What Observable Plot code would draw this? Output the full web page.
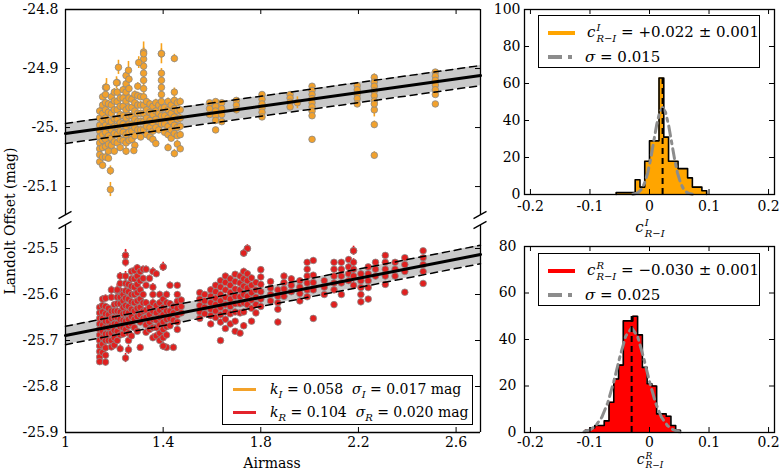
<!DOCTYPE html>
<html>
<head>
<meta charset="utf-8">
<script src="https://cdn.jsdelivr.net/npm/d3@7"></script>
<script src="https://cdn.jsdelivr.net/npm/@observablehq/plot@0.6"></script>
<style>
html,body{margin:0;padding:0;background:#fff;overflow:hidden;}
#root{position:relative;width:780px;height:473px;font-family:"DejaVu Serif","Liberation Serif",serif;color:#000;overflow:hidden;}
.box{position:absolute;background:#fff;border:1.3px solid #000;box-sizing:border-box;}
.sw{position:absolute;}
.lt{position:absolute;white-space:nowrap;font-size:15px;line-height:20px;font-family:"DejaVu Serif","Liberation Serif",serif;}
.lt sub{font-size:10px;vertical-align:-4px;line-height:0;}
.ss{display:inline-block;font-size:10px;line-height:11px;vertical-align:-5px;text-align:left;margin-left:1px;}
.ss>span{display:block;}
.small .ss{font-size:9px;line-height:9px;vertical-align:-4px;}
</style>
</head>
<body>
<div id="root"></div>
<script>
// ---------------- data ----------------
const airDomain = [1, 2.7];
const airTicks = [1, 1.4, 1.8, 2.2, 2.6];
const airLabels = ["1", "1.4", "1.8", "2.2", "2.6"];

const topDomain = [-25.149, -24.8];
const topYTicks = [-24.8, -24.9, -25.0, -25.1];
const topYLabels = ["-24.8", "-24.9", "-25.", "-25.1"];

const lowDomain = [-25.9, -25.45];
const lowYTicks = [-25.5, -25.6, -25.7, -25.8, -25.9];
const lowYLabels = ["-25.5", "-25.6", "-25.7", "-25.8", "-25.9"];

// fitted lines (airmass endpoints) and scatter
const fitX = [1, 2.7];
const fitI = [-25.010, -24.912];
const fitR = [-25.689, -25.513];
const sigI = 0.017;
const sigR = 0.020;

// I band: [airmass, error, offsets]
const iColumns = [
  [1.140, 0.006, [-24.972,-24.984,-24.996,-25.006,-25.016,-25.026,-25.036,-25.046,-25.058]],
  [1.152, 0.006, [-24.948,-24.962,-24.976,-24.988,-25.0,-25.012,-25.022,-25.034,-25.05,-25.064]],
  [1.164, 0.007, [-24.932,-24.944,-24.958,-24.97,-24.984,-24.996,-25.008,-25.02,-25.032,-25.05]],
  [1.176, 0.006, [-24.96,-24.974,-24.988,-25.0,-25.014,-25.028,-25.04,-25.052]],
  [1.188, 0.006, [-24.948,-24.962,-24.976,-24.99,-25.004,-25.018,-25.03]],
  [1.200, 0.006, [-24.94,-24.955,-24.97,-24.985,-24.998,-25.01,-25.024,-25.04]],
  [1.212, 0.006, [-24.924,-24.94,-24.956,-24.97,-24.986,-24.998,-25.012,-25.026]],
  [1.224, 0.006, [-24.95,-24.964,-24.978,-24.992,-25.006,-25.02,-25.034]],
  [1.236, 0.006, [-24.936,-24.95,-24.964,-24.98,-24.994,-25.008,-25.022]],
  [1.248, 0.007, [-24.912,-24.926,-24.94,-24.955,-24.97,-24.984,-24.998,-25.012,-25.026,-25.04]],
  [1.260, 0.007, [-24.918,-24.934,-24.95,-24.966,-24.98,-24.994,-25.008,-25.022]],
  [1.272, 0.006, [-24.952,-24.966,-24.98,-24.994,-25.006,-25.02]],
  [1.284, 0.006, [-24.944,-24.958,-24.972,-24.986,-25.0,-25.014,-25.03]],
  [1.296, 0.006, [-24.93,-24.946,-24.962,-24.976,-24.99,-25.004]],
  [1.308, 0.006, [-24.948,-24.962,-24.976,-24.99,-25.004,-25.016]],
  [1.320, 0.008, [-24.872,-24.884,-24.896,-24.908,-24.92,-24.934,-24.948,-24.962,-24.976,-24.99,-25.004]],
  [1.332, 0.006, [-24.956,-24.97,-24.984,-24.998,-25.012]],
  [1.346, 0.006, [-24.96,-24.974,-24.988,-25.0,-25.016]],
  [1.358, 0.006, [-24.964,-24.978,-24.992,-25.006,-25.02]],
  [1.370, 0.006, [-24.958,-24.972,-24.986,-25.0,-25.027]],
  [1.382, 0.006, [-24.962,-24.976,-24.99,-25.004]],
  [1.393, 0.008, [-24.875,-24.908,-24.92,-24.932,-24.944,-24.956,-24.968,-24.98,-24.994]],
  [1.406, 0.006, [-24.966,-24.98,-24.994,-25.008]],
  [1.420, 0.006, [-24.956,-24.97,-24.984,-24.998,-25.012,-25.034]],
  [1.433, 0.006, [-24.962,-24.976,-24.99,-25.004,-25.018]],
  [1.446, 0.007, [-24.883,-24.94,-24.954,-24.968,-24.982,-24.996,-25.01,-25.044]],
  [1.458, 0.006, [-24.958,-24.972,-24.986,-25.0,-25.014,-25.028]],
  [1.470, 0.006, [-24.956,-24.97,-24.984,-24.998,-25.012,-25.036]],
  [1.590, 0.004, [-24.958,-24.968,-24.978]],
  [1.615, 0.004, [-24.956,-24.964,-24.972,-24.98,-24.988,-25.004]],
  [1.640, 0.004, [-24.958,-24.968,-24.978,-24.99]],
  [1.700, 0.005, [-24.954,-24.962,-24.97]],
  [1.805, 0.004, [-24.944,-24.952,-24.96,-24.967,-24.974,-24.982]],
  [1.920, 0.004, [-24.944,-24.95,-24.957,-24.965]],
  [2.010, 0.004, [-24.93,-24.937,-24.944,-24.951,-24.958,-24.965,-24.972,-24.98,-25.02]],
  [2.195, 0.004, [-24.929,-24.936,-24.944,-24.951,-24.96]],
  [2.265, 0.006, [-24.915,-24.923,-24.93,-24.938,-24.946,-24.955,-24.97,-24.995,-25.047]],
  [2.515, 0.004, [-24.906,-24.913,-24.92,-24.928,-24.936,-24.944,-24.96]]
];
// I band points with long error bars: [airmass, offset, error]
const iWide = [
  [1.168,-24.932,0.015],[1.217,-24.898,0.012],[1.258,-24.903,0.015],[1.300,-24.890,0.010],
  [1.209,-24.924,0.010],[1.184,-25.073,0.008],[1.184,-25.105,0.012],[1.280,-25.039,0.006],
  [1.393,-24.875,0.017],[1.320,-24.875,0.020],[1.950,-24.958,0.010],[2.265,-24.960,0.022]
];

// R band: [airmass, error, offsets]
const rColumns = [
  [1.140, 0.007, [-25.628,-25.64,-25.652,-25.664,-25.676,-25.688,-25.7,-25.712,-25.724,-25.736,-25.746]],
  [1.152, 0.007, [-25.61,-25.624,-25.638,-25.652,-25.666,-25.68,-25.694,-25.708,-25.726]],
  [1.164, 0.007, [-25.608,-25.626,-25.642,-25.658,-25.672,-25.686,-25.7,-25.716,-25.732]],
  [1.176, 0.007, [-25.63,-25.644,-25.658,-25.672,-25.686,-25.7]],
  [1.188, 0.008, [-25.59,-25.606,-25.636,-25.652,-25.668,-25.684,-25.7,-25.714]],
  [1.200, 0.007, [-25.622,-25.636,-25.65,-25.664,-25.678,-25.694,-25.71]],
  [1.212, 0.007, [-25.592,-25.606,-25.62,-25.636,-25.65,-25.664,-25.68,-25.7]],
  [1.224, 0.008, [-25.56,-25.576,-25.592,-25.606,-25.62,-25.638,-25.654,-25.67,-25.688,-25.718]],
  [1.236, 0.007, [-25.6,-25.614,-25.628,-25.642,-25.656,-25.672,-25.686]],
  [1.246, 0.010, [-25.515,-25.53,-25.56,-25.576,-25.592,-25.608,-25.624,-25.64,-25.658,-25.676,-25.738]],
  [1.258, 0.007, [-25.578,-25.594,-25.61,-25.626,-25.64,-25.654,-25.668,-25.684,-25.7]],
  [1.270, 0.007, [-25.55,-25.566,-25.582,-25.6,-25.616,-25.632,-25.648,-25.664,-25.69]],
  [1.282, 0.008, [-25.548,-25.566,-25.584,-25.6,-25.618,-25.636,-25.654,-25.672]],
  [1.294, 0.007, [-25.542,-25.56,-25.578,-25.596,-25.614,-25.63,-25.648,-25.68]],
  [1.306, 0.007, [-25.55,-25.57,-25.59,-25.61,-25.628,-25.644,-25.66,-25.715]],
  [1.318, 0.007, [-25.545,-25.565,-25.6,-25.618,-25.636,-25.652]],
  [1.330, 0.007, [-25.545,-25.58,-25.618,-25.634,-25.65,-25.666,-25.682]],
  [1.344, 0.007, [-25.565,-25.628,-25.644,-25.66,-25.676]],
  [1.358, 0.008, [-25.55,-25.584,-25.6,-25.618,-25.636,-25.654,-25.672,-25.694]],
  [1.372, 0.007, [-25.555,-25.624,-25.64,-25.656,-25.672,-25.69]],
  [1.386, 0.007, [-25.6,-25.618,-25.634,-25.65,-25.666,-25.684,-25.7]],
  [1.400, 0.007, [-25.54,-25.61,-25.628,-25.644,-25.66,-25.676,-25.694,-25.712]],
  [1.414, 0.007, [-25.6,-25.618,-25.636,-25.654,-25.67,-25.688,-25.715]],
  [1.428, 0.007, [-25.58,-25.62,-25.636,-25.652,-25.668]],
  [1.442, 0.007, [-25.626,-25.64,-25.656,-25.715]],
  [1.458, 0.006, [-25.58,-25.6,-25.615,-25.63,-25.645,-25.66,-25.676]],
  [1.474, 0.006, [-25.612,-25.626,-25.64]],
  [1.550, 0.005, [-25.596,-25.61,-25.624,-25.638,-25.652]],
  [1.570, 0.005, [-25.6,-25.614,-25.628,-25.642]],
  [1.595, 0.006, [-25.59,-25.604,-25.618,-25.632,-25.646,-25.664]],
  [1.615, 0.006, [-25.58,-25.594,-25.608,-25.622,-25.636,-25.65]],
  [1.635, 0.006, [-25.57,-25.584,-25.6,-25.614,-25.628,-25.644,-25.66,-25.7]],
  [1.655, 0.006, [-25.56,-25.574,-25.59,-25.606,-25.622,-25.638,-25.654,-25.674]],
  [1.675, 0.006, [-25.566,-25.58,-25.596,-25.61,-25.626,-25.642,-25.664]],
  [1.695, 0.006, [-25.556,-25.572,-25.588,-25.604,-25.62,-25.638,-25.658,-25.68]],
  [1.715, 0.006, [-25.56,-25.575,-25.59,-25.605,-25.62,-25.64,-25.684]],
  [1.730, 0.007, [-25.51,-25.55,-25.566,-25.582,-25.6,-25.618,-25.638,-25.668]],
  [1.745, 0.007, [-25.5,-25.555,-25.57,-25.586,-25.604,-25.622]],
  [1.762, 0.006, [-25.564,-25.58,-25.596,-25.612,-25.63,-25.658]],
  [1.780, 0.006, [-25.574,-25.59,-25.606,-25.622,-25.64]],
  [1.800, 0.006, [-25.546,-25.562,-25.578,-25.594,-25.61,-25.626]],
  [1.840, 0.006, [-25.572,-25.586,-25.6,-25.614]],
  [1.870, 0.006, [-25.59,-25.604,-25.618,-25.632,-25.66]],
  [1.895, 0.006, [-25.56,-25.574,-25.588,-25.604]],
  [1.925, 0.006, [-25.566,-25.58,-25.594]],
  [1.960, 0.006, [-25.57,-25.584,-25.598,-25.614]],
  [1.990, 0.006, [-25.53,-25.545,-25.56,-25.575,-25.59,-25.605]],
  [2.015, 0.006, [-25.526,-25.558,-25.574,-25.59,-25.652]],
  [2.060, 0.005, [-25.57,-25.584,-25.6]],
  [2.100, 0.006, [-25.53,-25.545,-25.56,-25.575,-25.59,-25.622]],
  [2.130, 0.006, [-25.53,-25.545,-25.56,-25.575,-25.6]],
  [2.160, 0.006, [-25.524,-25.54,-25.555,-25.57]],
  [2.180, 0.008, [-25.505,-25.53,-25.545,-25.56,-25.58]],
  [2.210, 0.006, [-25.555,-25.57,-25.585,-25.6,-25.616]],
  [2.240, 0.005, [-25.54,-25.555,-25.57,-25.585,-25.61]],
  [2.270, 0.005, [-25.53,-25.545,-25.56]],
  [2.310, 0.005, [-25.515,-25.53,-25.545,-25.56,-25.578]],
  [2.350, 0.005, [-25.53,-25.545,-25.56]],
  [2.390, 0.005, [-25.52,-25.535,-25.55,-25.595]],
  [2.465, 0.005, [-25.505,-25.52,-25.535,-25.55,-25.576]]
];
const rWide = [
  [1.246,-25.515,0.013],[1.212,-25.59,0.012],[1.400,-25.54,0.010],[1.745,-25.50,0.008],
  [1.730,-25.51,0.008],[2.180,-25.505,0.010],[1.258,-25.72,0.010],[1.164,-25.747,0.008],[1.40,-25.712,0.009]
];

// histograms
const histDomain = [-0.21, 0.21];
const histXTicks = [-0.2, -0.1, 0, 0.1, 0.2];
const histXLabels = ["-0.2", "-0.1", "0", "0.1", "0.2"];
const binWidth = 0.008;
const iBinStart = [-0.056,-0.048,-0.040,-0.032,-0.024,-0.016,-0.008,0,0.008,0.016,0.024,0.032,0.040,0.048,0.056,0.064,0.072,0.080,0.088];
const iCounts   = [1,1,1,1,8,4,18,29,29,63,31,18,18,14,14,9,4,4,2];
const rBinStart = [-0.108,-0.100,-0.092,-0.084,-0.076,-0.068,-0.060,-0.052,-0.044,-0.036,-0.028,-0.020,-0.012,-0.004,0.004,0.012,0.020,0.028,0.036,0.044];
const rCounts   = [1,2,3,3,5,13,23,29,48,48,50,42,28,21,20,8,8,7,3,1];
const iYTicks = [0, 20, 40, 60, 80, 100];
const rYTicks = [0, 20, 40, 60, 80];
const iCenter = 0.022, iCenterTop = 64;
const rCenter = -0.030, rCenterTop = 51;
// fitted gaussians
const gaussIx = [-0.028,-0.023,-0.018,-0.013,-0.008,-0.003,0.002,0.007,0.012,0.017,0.022,0.027,0.032,0.037,0.042,0.047,0.052,0.057,0.062,0.067,0.072];
const gaussIy = [0.1,0.5,1.3,3.1,6.4,11.7,19.3,28.5,37.6,44.4,47,44.4,37.6,28.5,19.3,11.7,6.4,3.1,1.3,0.5,0.1];
const gaussRx = [-0.11,-0.10,-0.09,-0.08,-0.07,-0.06,-0.05,-0.04,-0.03,-0.02,-0.01,0,0.01,0.02,0.03,0.04,0.05];
const gaussRy = [0.3,1.1,3.0,6.6,12.9,21.9,32.3,41.4,45,41.4,32.3,21.9,12.9,6.6,3.0,1.1,0.3];

// legend texts
const legendK = [
  {color: "#f3a22a", html: '<i>k</i><sub><i>I</i></sub> = 0.058&nbsp;&nbsp;<i>σ</i><sub><i>I</i></sub> = 0.017 mag'},
  {color: "#e3232b", html: '<i>k</i><sub><i>R</i></sub> = 0.104&nbsp;&nbsp;<i>σ</i><sub><i>R</i></sub> = 0.020 mag'}
];
const legendI = ['+0.022 ± 0.001', '0.015'];
const legendR = ['−0.030 ± 0.001', '0.025'];

// ---------------- helpers ----------------
const SERIF = '"DejaVu Serif", "Liberation Serif", serif';
const ORANGE_PT = "#f2a12c", RED_PT = "#e0201f", EDGE = "#8a8a8a";
const root = document.getElementById("root");
function put(node, left, top) {
  node.style.position = "absolute"; node.style.left = left + "px"; node.style.top = top + "px";
  root.appendChild(node); return node;
}
const lookup = (ticks, labels) => d => { const i = ticks.findIndex(t => Math.abs(t - d) < 1e-9); return i < 0 ? "" : labels[i]; };
const points = (cols, wide) => cols.flatMap(([am, err, offs]) => offs.map(off => ({am, off, err})))
  .concat(wide.map(([am, off, err]) => ({am, off, err})));
const band = (ys, s) => fitX.map((x, i) => ({x, mid: ys[i], lo: ys[i] - s, hi: ys[i] + s}));
const TICK = 5;
function frameTicks(xt, yt, fw, fh, sides) {
  const m = [];
  if (sides.includes("b")) m.push(Plot.ruleX(xt, {insetTop: fh - TICK, stroke: "#000"}));
  if (sides.includes("t")) m.push(Plot.ruleX(xt, {insetBottom: fh - TICK, stroke: "#000"}));
  if (sides.includes("l")) m.push(Plot.ruleY(yt, {insetRight: fw - TICK, stroke: "#000"}));
  if (sides.includes("r")) m.push(Plot.ruleY(yt, {insetLeft: fw - TICK, stroke: "#000"}));
  return m;
}
function scatterMarks(pts, bandRows, color, ptColor) {
  return [
    Plot.areaY(bandRows, {x: "x", y1: "lo", y2: "hi", fill: "#c9c9c9"}),
    Plot.ruleX(pts, {x: "am", y1: d => d.off - d.err, y2: d => d.off + d.err, stroke: color, strokeWidth: 1.6}),
    Plot.dot(pts, {x: "am", y: "off", r: 3.3, fill: ptColor, stroke: EDGE, strokeWidth: 0.8}),
    Plot.line(bandRows, {x: "x", y: "lo", stroke: "#000", strokeWidth: 1.5, strokeDasharray: "7,5"}),
    Plot.line(bandRows, {x: "x", y: "hi", stroke: "#000", strokeWidth: 1.5, strokeDasharray: "7,5"}),
    Plot.line(bandRows, {x: "x", y: "mid", stroke: "#000", strokeWidth: 3})
  ];
}
const baseStyle = {fontFamily: SERIF, fontSize: "14px", background: "none", overflow: "visible", color: "#000"};

// ---------------- panel A (I band, top) ----------------
{
  const W = 490, H = 222, ml = 65, mr = 10, mt = 9, mb = 7;
  const fw = W - ml - mr, fh = H - mt - mb;
  const p = Plot.plot({
    width: W, height: H, marginLeft: ml, marginRight: mr, marginTop: mt, marginBottom: mb,
    style: baseStyle,
    x: {domain: airDomain, axis: null},
    y: {domain: topDomain, ticks: topYTicks, tickFormat: lookup(topYTicks, topYLabels), tickSize: 0, tickPadding: 7, label: null},
    marks: [
      ...scatterMarks(points(iColumns, iWide), band(fitI, sigI), "#f7a21b", ORANGE_PT),
      ...frameTicks(airTicks, topYTicks, fw, fh, "tlr"),
      Plot.ruleX(airDomain, {stroke: "#000", strokeWidth: 1.3}),
      Plot.ruleY([topDomain[1]], {stroke: "#000", strokeWidth: 1.3})
    ]
  });
  put(p, 0, 0);
}

// ---------------- panel B (R band, bottom) ----------------
{
  const W = 490, H = 251, ml = 65, mr = 10, mt = 3, mb = 41;
  const fw = W - ml - mr, fh = H - mt - mb;
  const p = Plot.plot({
    width: W, height: H, marginLeft: ml, marginRight: mr, marginTop: mt, marginBottom: mb,
    style: baseStyle,
    x: {domain: airDomain, ticks: airTicks, tickFormat: lookup(airTicks, airLabels), tickSize: 0, tickPadding: 5, label: null},
    y: {domain: lowDomain, ticks: lowYTicks, tickFormat: lookup(lowYTicks, lowYLabels), tickSize: 0, tickPadding: 7, label: null},
    marks: [
      ...scatterMarks(points(rColumns, rWide), band(fitR, sigR), "#e8141c", RED_PT),
      ...frameTicks(airTicks, lowYTicks, fw, fh, "blr"),
      Plot.ruleX(airDomain, {stroke: "#000", strokeWidth: 1.3}),
      Plot.ruleY([lowDomain[0]], {stroke: "#000", strokeWidth: 1.3})
    ]
  });
  put(p, 0, 222);
}

// ---------------- histograms ----------------
function histPlot(starts, counts, fill, gx, gy, center, centerTop, yTicks, yMax, H, mt, mb, xPad, yPad) {
  const W = 310, ml = 54, mr = 6;
  const fw = W - ml - mr, fh = H - mt - mb;
  const stepPts = [{x: starts[0], y: 0}];
  starts.forEach((s, i) => { stepPts.push({x: s, y: counts[i]}); stepPts.push({x: s + binWidth, y: counts[i]}); });
  stepPts.push({x: starts[starts.length - 1] + binWidth, y: 0});
  const gauss = gx.map((x, i) => ({x, y: gy[i]}));
  return Plot.plot({
    width: W, height: H, marginLeft: ml, marginRight: mr, marginTop: mt, marginBottom: mb,
    style: baseStyle,
    x: {domain: histDomain, ticks: histXTicks, tickFormat: lookup(histXTicks, histXLabels), tickSize: 0, tickPadding: xPad, label: null},
    y: {domain: [0, yMax], ticks: yTicks, tickFormat: d => String(d), tickSize: 0, tickPadding: yPad, label: null},
    marks: [
      Plot.areaY(stepPts, {x: "x", y1: 0, y2: "y", fill}),
      Plot.line(stepPts, {x: "x", y: "y", stroke: "#000", strokeWidth: 1.6}),
      Plot.line(gauss, {x: "x", y: "y", stroke: "#8c8c8c", strokeWidth: 3, strokeDasharray: "10,5,3,5"}),
      Plot.ruleX([center], {y1: 0, y2: centerTop, stroke: "#000", strokeWidth: 2, strokeDasharray: "6,4"}),
      ...frameTicks(histXTicks, yTicks, fw, fh, "tblr"),
      Plot.frame({stroke: "#000", strokeWidth: 1.3})
    ]
  });
}
put(histPlot(iBinStart, iCounts, "#ffa500", gaussIx, gaussIy, iCenter, iCenterTop, iYTicks, 100, 240, 9, 46, 7, 4), 470, 0);
put(histPlot(rBinStart, rCounts, "#ff0000", gaussRx, gaussRy, rCenter, rCenterTop, rYTicks, 80, 237, 10, 41, 5, 8), 470, 236);

// ---------------- text overlays ----------------
function div(cls, html, left, top, extra) {
  const d = document.createElement("div"); d.className = cls; d.innerHTML = html;
  if (extra) Object.assign(d.style, extra);
  return put(d, left, top);
}
// y label
div("lt", "Landolt Offset (mag)", -90, 211, {width: "200px", textAlign: "center", transform: "rotate(-90deg)", fontSize: "14px"});
// x labels
div("lt", "Airmass", 222, 453, {width: "100px", textAlign: "center", fontSize: "14px"});
const cLabel = sup => '<i>c</i><span class="ss"><span><i>' + sup + '</i></span><span><i>R</i>−<i>I</i></span></span>';
div("lt", cLabel("I"), 600, 217, {width: "100px", textAlign: "center", lineHeight: "16px"});
div("lt small", cLabel("R"), 600, 452, {width: "100px", textAlign: "center", lineHeight: "14px", fontSize: "14px"});

// left legend
{
  const box = div("box", "", 222, 375, {width: "251px", height: "50px"});
  legendK.forEach((row, i) => {
    const sw = document.createElement("div"); sw.className = "sw";
    Object.assign(sw.style, {left: "10px", top: (12 + i * 23) + "px", width: "23px", height: "2.5px", background: row.color});
    box.appendChild(sw);
    const t = document.createElement("div"); t.className = "lt"; t.innerHTML = row.html;
    Object.assign(t.style, {left: "47px", top: (3 + i * 23) + "px", fontSize: "14px"});
    box.appendChild(t);
  });
}
// histogram legends
function histLegend(top, color, sup, texts) {
  const box = div("box", "", 538, top, {width: "222px", height: "53px"});
  const add = (style, html, cls) => {
    const d = document.createElement("div"); d.className = cls; if (html) d.innerHTML = html;
    Object.assign(d.style, style); box.appendChild(d);
  };
  add({left: "9px", top: "15px", width: "27px", height: "4px", background: color}, "", "sw");
  add({left: "48px", top: "6px"}, cLabel(sup) + ' = ' + texts[0], "lt");
  add({left: "9px", top: "39px", width: "14px", height: "4px", background: "#8c8c8c"}, "", "sw");
  add({left: "29px", top: "39px", width: "4px", height: "4px", background: "#8c8c8c"}, "", "sw");
  add({left: "46px", top: "31px"}, '<i>σ</i> = ' + texts[1], "lt");
}
histLegend(15, "#ffa500", "I", legendI);
histLegend(253, "#ff0000", "R", legendR);

// broken-axis marks
{
  const ns = "http://www.w3.org/2000/svg";
  const svg = document.createElementNS(ns, "svg");
  svg.setAttribute("width", 780); svg.setAttribute("height", 473);
  svg.style.pointerEvents = "none";
  [[65, 215], [65, 225], [480, 215], [480, 225]].forEach(([cx, cy]) => {
    const l = document.createElementNS(ns, "line");
    l.setAttribute("x1", cx - 6.5); l.setAttribute("y1", cy + 3.6);
    l.setAttribute("x2", cx + 6.5); l.setAttribute("y2", cy - 3.6);
    l.setAttribute("stroke", "#000"); l.setAttribute("stroke-width", 1.3);
    svg.appendChild(l);
  });
  put(svg, 0, 0);
}
</script>
</body>
</html>
